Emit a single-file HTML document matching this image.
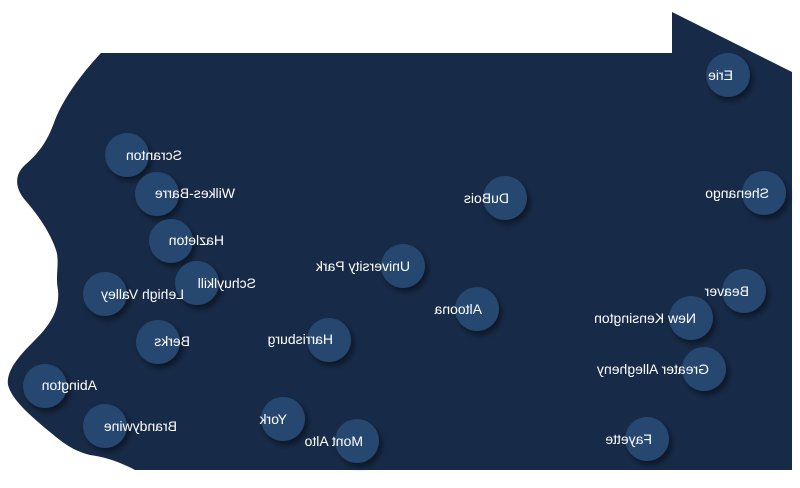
<!DOCTYPE html>
<html><head><meta charset="utf-8"><style>
html,body{margin:0;padding:0;background:#fff;}
svg{display:block;}
text{font-family:"Liberation Sans",sans-serif;font-size:14px;fill:#fff;}
</style></head><body>
<svg width="800" height="488" viewBox="0 0 800 488" xmlns="http://www.w3.org/2000/svg">
<defs>
<filter id="sh" x="-50%" y="-50%" width="200%" height="200%">
<feDropShadow dx="3" dy="4" stdDeviation="3" flood-color="#000" flood-opacity="0.45"/>
</filter>
</defs>
<path fill="#172a47" d="M101,53 L672,53 L672,12 L792,72 L792,470 L135,470
C120,462 105,457 90,455 C70,450 60,440 45,428 C30,415 12,400 8,385 C6,370 20,355 35,340
C50,325 60,310 58,290 C55,275 60,262 56,250 C50,232 38,215 25,200 C15,188 14,175 25,165
C40,152 48,140 55,120 C65,95 85,70 101,53 Z"/>
<g fill="#27466f" filter="url(#sh)">
<circle cx="127" cy="155" r="22"/>
<circle cx="157" cy="194" r="22"/>
<circle cx="171" cy="241" r="22"/>
<circle cx="105" cy="294" r="22"/>
<circle cx="197" cy="283" r="22"/>
<circle cx="158" cy="342" r="22"/>
<circle cx="329" cy="340" r="22"/>
<circle cx="45" cy="386" r="22"/>
<circle cx="105" cy="426" r="22"/>
<circle cx="283" cy="419" r="22"/>
<circle cx="357" cy="441" r="22"/>
<circle cx="403" cy="266" r="22"/>
<circle cx="505" cy="198" r="22"/>
<circle cx="477" cy="309" r="22"/>
<circle cx="728" cy="75" r="22"/>
<circle cx="764" cy="193" r="22"/>
<circle cx="744" cy="291" r="22"/>
<circle cx="691" cy="318" r="22"/>
<circle cx="704" cy="369" r="22"/>
<circle cx="647" cy="439" r="22"/>
</g>
<g>
<text transform="translate(182,160) scale(-1,1)">Scranton</text>
<text transform="translate(235,198) scale(-1,1)">Wilkes-Barre</text>
<text transform="translate(224,245) scale(-1,1)">Hazleton</text>
<text transform="translate(256,288) scale(-1,1)">Schuylkill</text>
<text transform="translate(184,299) scale(-1,1)">Lehigh Valley</text>
<text transform="translate(190,346) scale(-1,1)">Berks</text>
<text transform="translate(333,344) scale(-1,1)">Harrisburg</text>
<text transform="translate(97,390) scale(-1,1)">Abington</text>
<text transform="translate(177,431) scale(-1,1)">Brandywine</text>
<text transform="translate(287,424) scale(-1,1)">York</text>
<text transform="translate(363,446) scale(-1,1)">Mont Alto</text>
<text transform="translate(410,271) scale(-1,1)">University Park</text>
<text transform="translate(509,203) scale(-1,1)">DuBois</text>
<text transform="translate(482,314) scale(-1,1)">Altoona</text>
<text transform="translate(733,80) scale(-1,1)">Erie</text>
<text transform="translate(769,198) scale(-1,1)">Shenango</text>
<text transform="translate(749,296) scale(-1,1)">Beaver</text>
<text transform="translate(696,323) scale(-1,1)">New Kensington</text>
<text transform="translate(709,374) scale(-1,1)">Greater Allegheny</text>
<text transform="translate(652,444) scale(-1,1)">Fayette</text>
</g>
</svg>
</body></html>
